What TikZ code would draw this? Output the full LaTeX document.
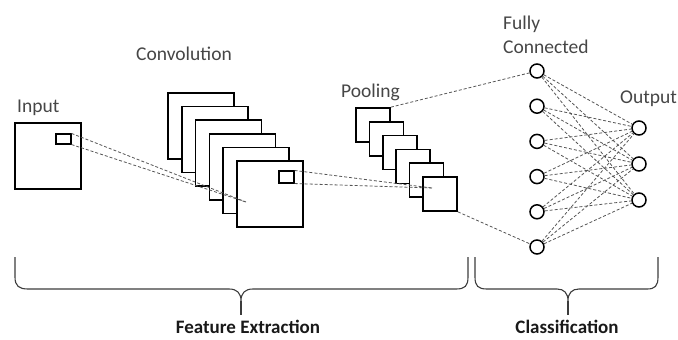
\documentclass[tikz,border=0pt]{standalone}
\usepackage{fontspec}
\setmainfont{Carlito}
\usepackage{tikz}

\begin{document}
\begin{tikzpicture}[x=1pt,y=1pt,yscale=-1,
  fmap/.style={draw=black,fill=white,line width=1.7pt,inner sep=0pt,minimum size=#1},
  patch/.style={draw=black,fill=none,line width=1.1pt,inner sep=0pt},
  neuron/.style={circle,draw=black,fill=white,line width=1.5pt,inner sep=0pt,minimum size=14pt},
  link/.style={draw={rgb,255:red,85;green,85;blue,85},line width=0.8pt,dash pattern={on 3pt off 2pt}},
  lbl/.style={text={rgb,255:red,70;green,70;blue,70},font=\fontsize{19.5}{21}\selectfont,inner sep=0pt},
  grp/.style={text={rgb,255:red,25;green,25;blue,25},font=\fontsize{19}{21}\selectfont\bfseries,inner sep=0pt},
  brc/.style={draw={rgb,255:red,60;green,60;blue,60},line width=1.1pt}]
\useasboundingbox (0,0) rectangle (678,340);

%Shape: input image and its window
\node[fmap=66pt] (inp) at (48,156) {};
\node[patch,minimum width=15pt,minimum height=10pt] (inpwin) at (63.5,139) {};

%Shape: convolution maps
\foreach \i in {1,...,6}
  \node[fmap=66pt] (conv\i) at ({201+13.8*(\i-1)},{126+13.6*(\i-1)}) {};
\node[patch,minimum width=15pt,minimum height=12pt] (convwin) at (286.5,177) {};

%Shape: pooling maps
\foreach \i in {1,...,6}
  \node[fmap=34pt] (pool\i) at ({373+13.4*(\i-1)},{125+13.8*(\i-1)}) {};

\coordinate (convhit) at (246,202);
\coordinate (poolhit) at (432,188);

%Shape: fully connected and output neurons
\foreach \i in {1,...,6}
  \node[neuron] (fc\i) at (537,{71+35.2*(\i-1)}) {};
\foreach \j in {1,...,3}
  \node[neuron] (out\j) at (639,{128+36*(\j-1)}) {};

%Straight Lines
\draw[link] (inpwin.north east) -- (convhit);
\draw[link] (inpwin.south east) -- (convhit);
\draw[link] (convwin.north east) -- (poolhit);
\draw[link] (convwin.south east) -- (poolhit);
\draw[link] (pool1.north east) -- (fc1);
\draw[link] (pool6.south east) -- (fc6);
\foreach \i in {1,...,6}
  \foreach \j in {1,...,3}
    \draw[link] (fc\i) -- (out\j);

%Braces
\draw[brc] (15,257) -- (15,277) .. controls (15,286) and (19,289) .. (28,289) -- (229,289)
  .. controls (237,289) and (241,293) .. (241,301) .. controls (241,293) and (245,289) .. (253,289)
  -- (456,289) .. controls (465,289) and (468,286) .. (468,277) -- (468,257);
\draw[brc] (241,301) -- (241,315);
\draw[brc] (475,257) -- (475,277) .. controls (475,286) and (478,289) .. (487,289) -- (557,289)
  .. controls (564,289) and (568,293) .. (568,301) .. controls (568,293) and (572,289) .. (579,289)
  -- (647,289) .. controls (655,289) and (658,286) .. (658,277) -- (658,257);
\draw[brc] (568,301) -- (568,315);

% Text Node
\node[lbl,anchor=base west] (inplbl) at (17,112) {Input};
\node[lbl,anchor=base west] (convlbl) at (136,60) {Convolution};
\node[lbl,anchor=base west] (poollbl) at (341,97) {Pooling};
\node[lbl,anchor=base west] (fclbla) at (503,29) {Fully};
\node[lbl,anchor=base west] (fclblb) at (503,53) {Connected};
\node[lbl,anchor=base west] (outlbl) at (620,103) {Output};
\node[grp,anchor=base] (featlbl) at (248,333) {Feature Extraction};
\node[grp,anchor=base] (clslbl) at (567,333) {Classification};

\end{tikzpicture}
\end{document}
